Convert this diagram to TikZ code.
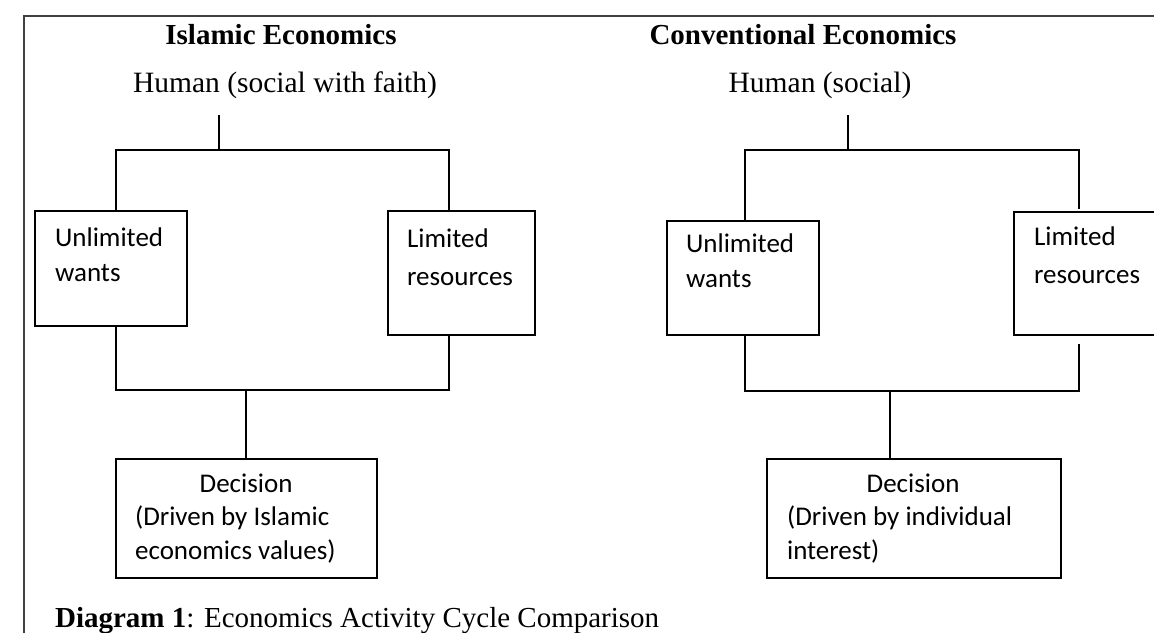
\documentclass[tikz,border=0pt]{standalone}
\usepackage{fontspec}
\setmainfont{Liberation Serif}
\newfontfamily\calib{Carlito}
\begin{document}
\begin{tikzpicture}[x=1pt,y=-1pt,line width=2.2pt,
  box/.style={draw,line width=2.2pt,inner sep=0pt,anchor=north west},
  lbl/.style={font=\calib\fontsize{27}{35}\selectfont,align=left,anchor=base west,inner sep=0pt},
  lblwide/.style={font=\calib\fontsize{27}{38}\selectfont,align=left,anchor=base west,inner sep=0pt},
  dec/.style={font=\calib\fontsize{27}{33.5}\selectfont,align=left,anchor=base west,inner sep=0pt},
  ttl/.style={font=\bfseries\fontsize{29}{32}\selectfont,inner sep=0pt},
  hum/.style={font=\fontsize{29.5}{32}\selectfont,inner sep=0pt},
  captext/.style={font=\fontsize{29}{32}\selectfont,inner sep=0pt,anchor=base west},
  frameline/.style={line width=1.3pt,black!75}]
\useasboundingbox (0,0) rectangle (1154,632);
\fill[white] (0,0) rectangle (1154,632);
\draw[frameline] (24,660) -- (24,16) -- (1180,16);

% ---------- Islamic Economics ----------
\node[ttl] (tL) at (281,35) {Islamic Economics};
\node[hum] (humL) at (285,85) {Human (social with faith)};
\node[box,minimum width=152pt,minimum height=115pt] (uwL) at (34,210) {};
\node[box,minimum width=147pt,minimum height=124pt] (limL) at (387,210) {};
\node[box,minimum width=261pt,minimum height=119pt] (decL) at (115,458) {};
\node[lbl] (tuwL) at (54,281) {Unlimited\\wants};
\node[lblwide] (tlimL) at (406,285) {Limited\\resources};
\node[dec] (tdecL) at (134,559) {\makebox[222pt][c]{Decision}\\(Driven by Islamic\\economics values)};
\coordinate (hL) at (219,115);
\coordinate (splitL) at (219,150);
\coordinate (joinL) at (246,390);
\draw (hL) -- (splitL);
\draw ([xshift=5pt]uwL.north) |- (splitL) -| ([xshift=-12.5pt]limL.north);
\draw ([xshift=5pt]uwL.south) |- (joinL) -| ([xshift=-12.5pt]limL.south);
\draw (joinL) -- (joinL |- decL.north);

% ---------- Conventional Economics ----------
\node[ttl] (tR) at (803,35) {Conventional Economics};
\node[hum] (humR) at (820,85) {Human (social)};
\node[box,minimum width=152pt,minimum height=114pt] (uwR) at (666,220) {};
\node[box,minimum width=147pt,minimum height=123pt] (limR) at (1013,211) {};
\node[box,minimum width=294pt,minimum height=119pt] (decR) at (766,458) {};
\node[lbl] (tuwR) at (685,287) {Unlimited\\wants};
\node[lblwide] (tlimR) at (1033,283) {Limited\\resources};
\node[dec] (tdecR) at (786,559) {\makebox[252pt][c]{Decision}\\(Driven by individual\\interest)};
\coordinate (hR) at (848,115);
\coordinate (splitR) at (848,150);
\coordinate (joinR) at (890,391);
\draw (hR) -- (splitR);
\draw ([xshift=2pt]uwR.north) |- (splitR) -| ([xshift=-8.5pt,yshift=2pt]limR.north);
\draw ([xshift=2pt]uwR.south) |- (joinR) -| ([xshift=-8.5pt,yshift=-8pt]limR.south);
\draw (joinR) -- (joinR |- decR.north);

% ---------- caption ----------
\node[captext] (capt) at (54,627) {\textbf{Diagram 1}: Economics Activity Cycle Comparison};
\end{tikzpicture}
\end{document}
